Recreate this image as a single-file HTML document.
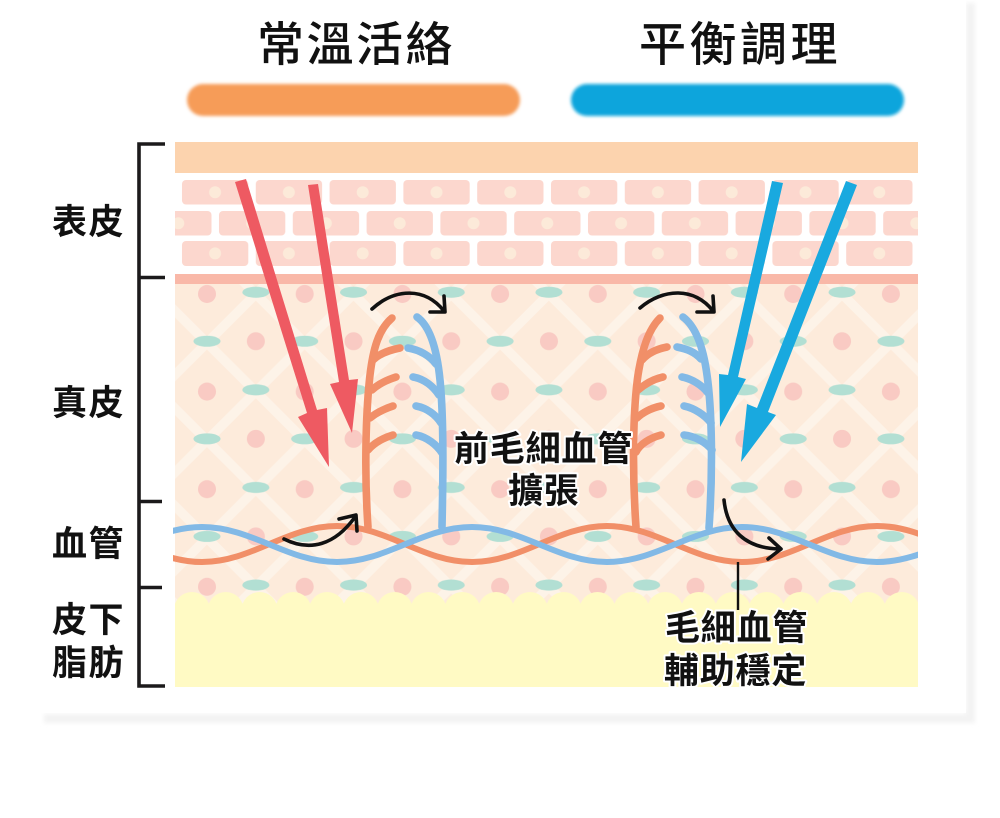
<!DOCTYPE html>
<html lang="zh-Hant"><head><meta charset="utf-8"><title>常溫活絡 平衡調理</title>
<style>html,body{margin:0;padding:0;background:#fff}svg{display:block}
text{font-family:"Liberation Sans","Noto Sans CJK JP","Noto Sans CJK TC",sans-serif;fill:#111}
.l{font-size:35px;font-weight:700;letter-spacing:1.5px}
.c{font-size:35px;font-weight:700;letter-spacing:.8px;stroke:#fff;stroke-width:4px;paint-order:stroke;stroke-linejoin:round}
.t{font-size:47px;font-weight:500;letter-spacing:2.5px}
</style></head><body>
<svg width="1000" height="818" viewBox="0 0 1000 818" xmlns="http://www.w3.org/2000/svg">
<defs>
<filter id="b1" x="-5%" y="-30%" width="110%" height="160%"><feGaussianBlur stdDeviation="1.6"/></filter>
<filter id="b2" x="-5%" y="-5%" width="110%" height="110%"><feGaussianBlur stdDeviation="2.2"/></filter>
<pattern id="derm" patternUnits="userSpaceOnUse" x="158.15" y="245.25" width="97.7" height="97.6">
<rect width="98" height="98" fill="#fdebdb"/>
<g stroke="#fdf3e8" stroke-width="9.5" fill="none">
<path d="M-20 28.800L80 128.800M30 -18.800L130 81.200M-20 68.800L80 -31.200M20 126.400L130 16.400"/>
</g>
<g fill="#f9cac3"><circle cx="48.85" cy="48.75" r="9"/><circle cx="0" cy="96" r="9"/><circle cx="97.7" cy="96" r="9"/><circle cx="0" cy="-1.6" r="9"/><circle cx="97.7" cy="-1.6" r="9"/></g>
<g fill="#b2dfd3"><ellipse cx="0" cy="47" rx="13.5" ry="5.5"/><ellipse cx="97.7" cy="47" rx="13.5" ry="5.5"/><ellipse cx="48.85" cy="96" rx="13.5" ry="5.5"/><ellipse cx="48.85" cy="-1.6" rx="13.5" ry="5.5"/></g>
</pattern>
<pattern id="cellA" patternUnits="userSpaceOnUse" x="178.5" y="180" width="73.8" height="25">
<rect x="3.5" y="0" width="66.300" height="24.500" rx="4" fill="#fcd7ce"/><circle cx="36.600" cy="12.200" r="6" fill="#fcead9"/>
</pattern>
<pattern id="cellB" patternUnits="userSpaceOnUse" x="141.7" y="211" width="73.8" height="25">
<rect x="3.5" y="0" width="66.300" height="24.500" rx="4" fill="#fcd7ce"/><circle cx="36.600" cy="12.200" r="6" fill="#fcead9"/>
</pattern>
<pattern id="cellC" patternUnits="userSpaceOnUse" x="178.5" y="241" width="73.8" height="26">
<rect x="3.5" y="0" width="66.300" height="25" rx="4" fill="#fcd7ce"/><circle cx="36.600" cy="12.400" r="6" fill="#fcead9"/>
</pattern>
<pattern id="bump" patternUnits="userSpaceOnUse" x="175" y="590" width="33.8" height="22">
<circle cx="16.9" cy="20" r="18" fill="#fffac4"/>
</pattern>
<clipPath id="wc"><rect x="173" y="500" width="745" height="100"/></clipPath>
</defs>
<rect width="1000" height="818" fill="#fff"/>
<!-- card shadow -->
<g fill="#f3f3f3" filter="url(#b2)"><rect x="966" y="3" width="9" height="720"/><rect x="44" y="714" width="931" height="9"/></g>
<rect x="40" y="0" width="926" height="713" fill="#fff"/>
<!-- titles -->
<text class="t" x="257" y="61">常溫活絡</text>
<text class="t" x="639" y="61" style="letter-spacing:3.5px">平衡調理</text>
<rect x="187" y="84" width="333" height="32" rx="16" fill="#f69c58" filter="url(#b1)"/>
<rect x="571" y="84" width="333" height="32" rx="16" fill="#0aa5dc" filter="url(#b1)"/>
<!-- skin layers -->
<rect x="175" y="142" width="743" height="31" fill="#fcd3ae"/>
<rect x="175" y="180" width="743" height="25" fill="url(#cellA)"/>
<rect x="175" y="211" width="743" height="25" fill="url(#cellB)"/>
<rect x="175" y="241" width="743" height="26" fill="url(#cellC)"/>
<rect x="175" y="284" width="743" height="322" fill="url(#derm)"/>
<rect x="175" y="274" width="743" height="10" fill="#f9b8a8"/>
<rect x="175" y="592" width="743" height="20" fill="url(#bump)"/>
<rect x="175" y="604" width="743" height="83" fill="#fffac4"/>
<!-- bracket -->
<g stroke="#1c1a1b" stroke-width="3.6" fill="none">
<path d="M165 144H139V686H165"/><path d="M139 277.500H165M139 501.500H162M139 587.500H162"/>
</g>
<text class="l" x="52" y="234">表皮</text>
<text class="l" x="52" y="415">真皮</text>
<text class="l" x="52" y="556">血管</text>
<text class="l" x="52" y="632">皮下</text>
<text class="l" x="52" y="675">脂肪</text>
<!-- capillaries -->
<g fill="none" stroke-linecap="round" stroke-width="7.6">
<g stroke="#f18f68">
<path d="M392 318C378 330 373 350 370 375C366 410 364 470 368 527"/>
<path d="M373 360C380 353 390 350 400 348M372 390C378 384 387 380 396 377M370 418C376 413 384 409 393 406M368 450C374 443 383 438 393 435"/>
<path d="M660 318C648 330 642 350 638 375C633 410 632 470 636 527"/>
<path d="M642 360C648 353 657 349 667 347M638 390C645 384 654 379 663 377M637 418C642 413 651 408 661 406M636 452C640 444 650 438 661 435"/>
</g>
<g stroke="#82b9e6">
<path d="M417 317C430 326 437 350 440 380C444 420 443 480 442 527"/>
<path d="M408 348C420 350 430 356 436 364M413 377C424 379 433 386 439 395M416 406C427 408 436 415 441 423M416 435C427 437 437 445 442 453"/>
<path d="M683 317C695 326 703 345 707 375C712 410 713 470 709 528"/>
<path d="M677 347C687 349 695 352 701 359M682 377C692 379 702 385 708 393M684 406C694 408 705 415 711 423M684 435C694 436 706 442 712 450"/>
</g>
</g>
<!-- waves -->
<g clip-path="url(#wc)" fill="none" stroke-width="6">
<path stroke="#f18f68" d="M67 526C117 526 152 562 202 562S287 526 337 526S422 562 472 562S557 526 607 526S692 562 742 562S827 526 877 526S962 562 1012 562"/>
<path stroke="#82b9e6" d="M67 562C117 562 152 527 202 527S287 562 337 562S422 527 472 527S557 562 607 562S692 527 742 527S827 562 877 562S962 527 1012 527"/>
</g>
<!-- big arrows -->
<polygon fill="#ee5a62" points="235,182 246,179 317,410 327,408 329,467 298,417 307,413"/>
<polygon fill="#ee5a62" points="308,185 318,184 349,380 358,379 352,433 330,384 339,382"/>
<polygon fill="#19a9df" points="772,181 783,183 738,377 746,379 720,427 719,374 728,375"/>
<polygon fill="#19a9df" points="846,181 857,185 768,412 776,415 741,462 747,404 757,408"/>
<!-- black arrows -->
<g fill="none" stroke="#111" stroke-width="3.6" stroke-linecap="round" stroke-linejoin="round">
<path d="M372 309C395 288 425 287 444 311M430 312H445L444 296"/>
<path d="M640 308C663 288 695 287 713 311M697 312H714L713 296"/>
<path d="M284 539C310 552 335 545 355 517M339 519L356 515L357 531"/>
<path d="M724 500C727 530 745 548 779 549M769 538L781 549L768 559"/>
</g>
<path d="M738 562V610" stroke="#111" stroke-width="2.4"/>
<!-- labels -->
<text class="c" x="454" y="461">前毛細血管</text>
<text class="c" x="508" y="503">擴張</text>
<text class="c" x="665" y="640">毛細血管</text>
<text class="c" x="664" y="683">輔助穩定</text>
</svg>
</body></html>
